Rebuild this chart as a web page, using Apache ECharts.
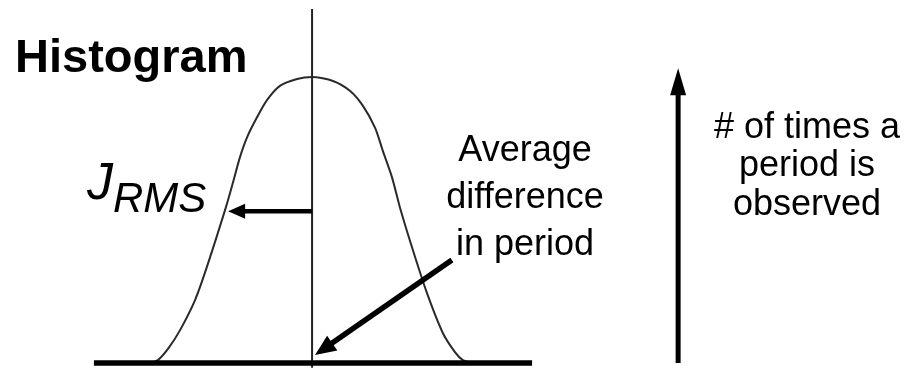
<!DOCTYPE html>
<html>
<head>
<meta charset="utf-8">
<title>Histogram</title>
<script src="https://cdn.jsdelivr.net/npm/echarts@6/dist/echarts.min.js"></script>
<style>
  html, body { margin: 0; padding: 0; background: #fff; }
  #chart { width: 905px; height: 369px; }
</style>
</head>
<body>
<div id="chart"></div>
<script>
// Period deviation (x) vs. number of observations (y, peak = 100)
const curveX = [-51.9, -49.4, -46.0, -42.3, -37.5, -33.7, -27.6, -25.3, -23.1, -20.8, -17.6, -14.4, -10.3, -4.8, 0,
                6.7, 12.2, 16.3, 20.2, 22.7, 25.6, 28.2, 32.3, 36.8, 41.9, 45.8, 48.3, 51.2];
const curveY = [0, 1.0, 5.2, 11.5, 22.0, 33.6, 54.5, 63.3, 72.0, 79.0, 86.0, 92.0, 96.9, 99.3, 100,
                98.6, 95.1, 89.9, 82.2, 74.1, 65.0, 54.2, 39.5, 24.5, 10.5, 3.8, 1.0, 0];

// Horizontal axis line and the mean (centre) line
const baseLineX = [-69.9, 70.5];
const meanLineY = [-1.7, 123.8];

// Arrows: [fromX, fromY, toX, toY]
const arrowJrms = [0, 53.1, -26.9, 53.1];
const arrowMean = [44.8, 36.0, 0.94, 2.8];
const arrowCount = [117.3, 0, 117.3, 103.1];

// Text
const titleText = 'Histogram';
const meanLabelLines = ['Average', 'difference', 'in period'];
const countLabelLines = ['# of times a', 'period is', 'observed'];

const FONT = "'Liberation Sans', Arial, Helvetica, sans-serif";

// Drawing styles for each arrow (line width, head length, head half-width), in px
const arrowStyles = [
  { width: 4.5, head: 17, half: 7.5 },
  { width: 5.5, head: 21, half: 9 },
  { width: 5, head: 27, half: 8 }
];

const chart = echarts.init(document.getElementById('chart'), null, { renderer: 'canvas' });

function renderArrow(params, api) {
  const p1 = api.coord([api.value(0), api.value(1)]);
  const p2 = api.coord([api.value(2), api.value(3)]);
  const st = arrowStyles[params.dataIndex];
  const dx = p2[0] - p1[0], dy = p2[1] - p1[1];
  const len = Math.hypot(dx, dy);
  const ux = dx / len, uy = dy / len;
  const bx = p2[0] - ux * st.head, by = p2[1] - uy * st.head;
  const nx = -uy, ny = ux;
  return {
    type: 'group',
    children: [
      { type: 'line', shape: { x1: p1[0], y1: p1[1], x2: bx + ux, y2: by + uy },
        style: { stroke: '#000', lineWidth: st.width } },
      { type: 'polygon',
        shape: { points: [[p2[0], p2[1]], [bx + nx * st.half, by + ny * st.half], [bx - nx * st.half, by - ny * st.half]] },
        style: { fill: '#000' } }
    ]
  };
}

const textEls = [];
textEls.push({ type: 'text', left: 15, top: 36,
  style: { text: titleText, font: 'bold 47px ' + FONT, fill: '#000' } });
textEls.push({ type: 'text', left: 87, top: 159,
  style: { text: 'J', font: 'italic 52px ' + FONT, fill: '#000' } });
textEls.push({ type: 'text', left: 113, top: 179,
  style: { text: 'RMS', font: 'italic 42px ' + FONT, fill: '#000' } });
meanLabelLines.forEach((t, i) => {
  textEls.push({ type: 'text', x: 525, y: 151 + i * 47,
    style: { text: t, font: '36px ' + FONT, fill: '#000', textAlign: 'center', textVerticalAlign: 'middle' } });
});
countLabelLines.forEach((t, i) => {
  textEls.push({ type: 'text', x: 807, y: 128 + i * 38.5,
    style: { text: t, font: '36px ' + FONT, fill: '#000', textAlign: 'center', textVerticalAlign: 'middle' } });
});

chart.setOption({
  animation: false,
  backgroundColor: '#fff',
  grid: { left: 0, right: 0, top: 5.5, bottom: 6 },
  xAxis: { type: 'value', min: -100, max: 190, show: false },
  yAxis: { type: 'value', min: 0, max: 125, show: false },
  graphic: textEls,
  series: [
    {
      name: 'distribution', type: 'line', smooth: 0.25, symbol: 'none', clip: false,
      data: curveX.map((x, i) => [x, curveY[i]]),
      lineStyle: { color: '#2a2a2a', width: 2 }
    },
    {
      name: 'mean', type: 'line', symbol: 'none', clip: false,
      data: meanLineY.map(y => [0, y]),
      lineStyle: { color: '#222', width: 2 }
    },
    {
      name: 'axis', type: 'line', symbol: 'none', clip: false,
      data: baseLineX.map(x => [x, 0]),
      lineStyle: { color: '#000', width: 5.5 }
    },
    {
      name: 'arrows', type: 'custom', clip: false,
      renderItem: renderArrow,
      data: [arrowJrms, arrowMean, arrowCount],
      z: 5
    }
  ]
});
</script>
</body>
</html>
